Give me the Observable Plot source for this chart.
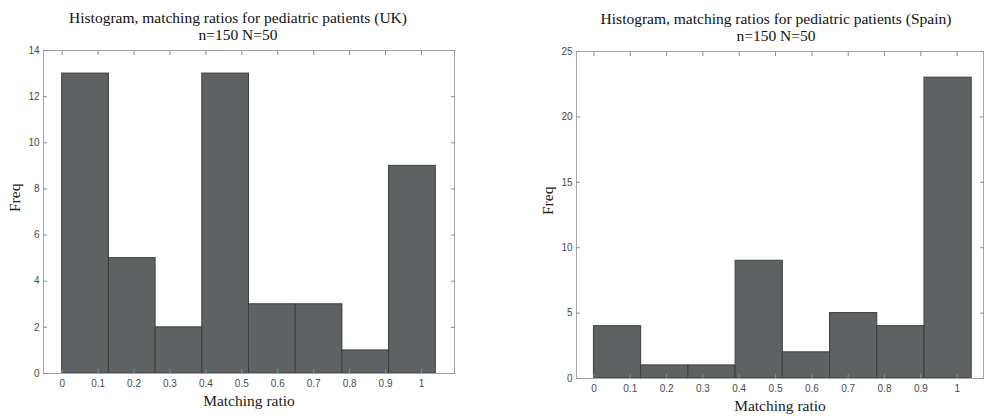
<!DOCTYPE html>
<html>
<head>
<meta charset="utf-8">
<script src="https://cdn.jsdelivr.net/npm/d3@7"></script>
<script src="https://cdn.jsdelivr.net/npm/@observablehq/plot@0.6"></script>
<style>
  html, body { margin: 0; padding: 0; background: #fff; }
  #wrap { position: relative; width: 984px; height: 418px; overflow: hidden; }
  #left, #right { position: absolute; top: 0; }
  #left { left: 0; }
  #right { left: 492px; }
</style>
</head>
<body>
<div id="wrap"><div id="left"></div><div id="right"></div></div>
<script>
// Data
const binEdges = [0, 0.13, 0.26, 0.39, 0.52, 0.65, 0.78, 0.91, 1.04];
const countsUK = [13, 5, 2, 13, 3, 3, 1, 9];
const countsSpain = [4, 1, 1, 9, 2, 5, 4, 23];
const xTicks = [0, 0.1, 0.2, 0.3, 0.4, 0.5, 0.6, 0.7, 0.8, 0.9, 1];
const xTickLabels = ["0", "0.1", "0.2", "0.3", "0.4", "0.5", "0.6", "0.7", "0.8", "0.9", "1"];
const yTicksUK = [0, 2, 4, 6, 8, 10, 12, 14];
const yTicksSpain = [0, 5, 10, 15, 20, 25];
const titleUK = ["Histogram, matching ratios for pediatric patients (UK)", "n=150 N=50"];
const titleSpain = ["Histogram, matching ratios for pediatric patients (Spain)", "n=150 N=50"];
const xLabel = "Matching ratio";
const yLabel = "Freq";

const serif = "'Liberation Serif', 'Times New Roman', serif";
const sans = "'Liberation Sans', Arial, Helvetica, sans-serif";
const frameColor = "#a6a6a6";
const barFill = "#5f6263";
const barEdge = "#3b3d3e";

function histo(counts) {
  return counts.map((c, i) => ({x1: binEdges[i], x2: binEdges[i + 1], y: c}));
}

function makeChart({counts, yTicks, yMax, title, xDomain, margins}) {
  const fmt = d => xTickLabels[xTicks.indexOf(d)];
  return Plot.plot({
    width: 492,
    height: 418,
    marginTop: margins.top,
    marginBottom: margins.bottom,
    marginLeft: margins.left,
    marginRight: margins.right,
    style: {background: "#fff", overflow: "visible"},
    x: {domain: xDomain},
    y: {domain: [0, yMax]},
    marks: [
      Plot.rectY(histo(counts), {x1: "x1", x2: "x2", y: "y", fill: barFill, stroke: barEdge, strokeWidth: 1}),
      Plot.frame({stroke: frameColor, strokeWidth: 1}),
      // inward tick marks on all four sides
      Plot.axisX(xTicks, {anchor: "bottom", tickSize: -4, tickFormat: () => "", label: null, stroke: "#8c8c8c"}),
      Plot.axisX(xTicks, {anchor: "top", tickSize: -4, tickFormat: () => "", label: null, stroke: "#8c8c8c"}),
      Plot.axisY(yTicks, {anchor: "left", tickSize: -4, tickFormat: () => "", label: null, stroke: "#8c8c8c"}),
      Plot.axisY(yTicks, {anchor: "right", tickSize: -4, tickFormat: () => "", label: null, stroke: "#8c8c8c"}),
      // tick labels
      Plot.axisX(xTicks, {anchor: "bottom", tickSize: 0, tickPadding: 6, tickFormat: fmt, label: null,
        fontFamily: sans, fontSize: 10, fill: "#4a4a4a"}),
      Plot.axisY(yTicks, {anchor: "left", tickSize: 0, tickPadding: 4, label: null,
        fontFamily: sans, fontSize: 10, fill: "#4a4a4a"}),
      // axis titles
      Plot.text([xLabel], {frameAnchor: "bottom", dy: 32, text: d => d, fontFamily: serif, fontSize: 15.5, fill: "#222"}),
      Plot.text([yLabel], {frameAnchor: "left", dx: -margins.yLabelOffset, rotate: -90, text: d => d, fontFamily: serif, fontSize: 15.5, fill: "#222"}),
      // title
      Plot.text([title[0]], {frameAnchor: "top", dx: margins.titleDx, dy: -39, text: d => d, fontFamily: serif, fontSize: 15.5, fill: "#111"}),
      Plot.text([title[1]], {frameAnchor: "top", dx: margins.titleDx, dy: -22, text: d => d, fontFamily: serif, fontSize: 15.5, fill: "#111"})
    ]
  });
}

document.getElementById("left").appendChild(makeChart({
  counts: countsUK, yTicks: yTicksUK, yMax: 14, title: titleUK,
  xDomain: [-0.052, 1.092],
  margins: {top: 50, bottom: 45, left: 43, right: 38, yLabelOffset: 28, titleDx: -11}
}));

document.getElementById("right").appendChild(makeChart({
  counts: countsSpain, yTicks: yTicksSpain, yMax: 25, title: titleSpain,
  xDomain: [-0.048, 1.0725],
  margins: {top: 51, bottom: 40, left: 84, right: 1, yLabelOffset: 28, titleDx: -4}
}));
</script>
</body>
</html>
